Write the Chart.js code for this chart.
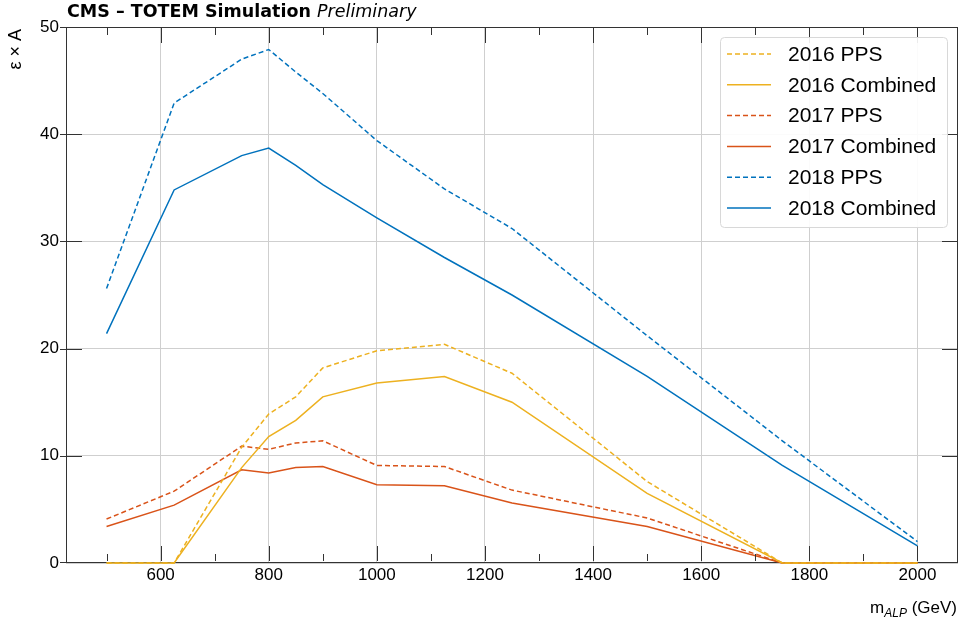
<!DOCTYPE html>
<html>
<head>
<meta charset="utf-8">
<script src="https://cdn.jsdelivr.net/npm/chart.js@4.4.0/dist/chart.umd.min.js"></script>
<style>
html, body { margin: 0; padding: 0; background: #fff; }
</style>
</head>
<body>
<canvas id="myChart" width="960" height="623"></canvas>
<script>
// ALP mass points (GeV)
var masses = [500, 625, 750, 800, 850, 900, 1000, 1125, 1250, 1500, 1750, 2000];

// efficiency x acceptance (%)
var pps2016 = [0, 0, 10.8, 13.9, 15.5, 18.2, 19.8, 20.4, 17.7, 7.6, 0, 0];
var comb2016 = [0, 0, 8.9, 11.8, 13.3, 15.5, 16.8, 17.4, 15.0, 6.5, 0, 0];
var pps2017 = [4.1, 6.7, 10.9, 10.6, 11.2, 11.4, 9.1, 9.0, 6.8, 4.2, 0, 0];
var comb2017 = [3.4, 5.4, 8.7, 8.4, 8.9, 9.0, 7.3, 7.2, 5.6, 3.4, 0, 0];
var pps2018 = [25.6, 42.9, 47.0, 47.9, 45.8, 43.8, 39.4, 34.9, 31.2, 21.2, 11.4, 2.0];
var comb2018 = [21.4, 34.8, 38.0, 38.7, 37.1, 35.3, 32.2, 28.5, 25.0, 17.4, 9.1, 1.6];

var seriesLabels = ['2016 PPS', '2016 Combined', '2017 PPS', '2017 Combined', '2018 PPS', '2018 Combined'];

var xMajor = [600, 800, 1000, 1200, 1400, 1600, 1800, 2000];
var xMinor = [500, 700, 900, 1100, 1300, 1500, 1700, 1900];
var yMajor = [0, 10, 20, 30, 40, 50];

var yellow = '#EDB120';
var orange = '#D95319';
var blue = '#0072BD';

function series(label, values, color, dashed) {
    return {
        label: label,
        data: masses.map(function (m, i) { return { x: m, y: values[i] }; }),
        borderColor: color,
        backgroundColor: color,
        borderWidth: 1.5,
        borderDash: dashed ? [5, 3] : [],
        pointRadius: 0,
        tension: 0,
        fill: false,
        clip: 3
    };
}

var frameAndTicks = {
    id: 'frameAndTicks',
    beforeDatasetsDraw: function (chart) {
        // axis frame sits under the curves so zero values stay visible
        var ctx = chart.ctx;
        var a = chart.chartArea;
        ctx.save();
        ctx.strokeStyle = '#333';
        ctx.lineWidth = 1;
        ctx.strokeRect(a.left + 0.5, a.top + 0.5, a.right - a.left - 1, a.bottom - a.top - 1);
        ctx.restore();
    },
    afterDatasetsDraw: function (chart) {
        var ctx = chart.ctx;
        var a = chart.chartArea;
        var xs = chart.scales.x, ys = chart.scales.y;
        ctx.save();
        ctx.strokeStyle = '#333';
        ctx.lineWidth = 1;

        ctx.beginPath();
        xMajor.forEach(function (v) {
            var px = Math.round(xs.getPixelForValue(v)) + 0.5;
            ctx.moveTo(px, a.bottom - 2); ctx.lineTo(px, a.bottom - 17);
            ctx.moveTo(px, a.top); ctx.lineTo(px, a.top + 16);
        });
        xMinor.forEach(function (v) {
            var px = Math.round(xs.getPixelForValue(v)) + 0.5;
            ctx.moveTo(px, a.bottom - 2); ctx.lineTo(px, a.bottom - 9);
            ctx.moveTo(px, a.top); ctx.lineTo(px, a.top + 8);
        });
        yMajor.forEach(function (v) {
            var py = Math.round(ys.getPixelForValue(v)) + 0.5;
            if (v === 0) py -= 1;
            ctx.moveTo(a.left - 6, py); ctx.lineTo(a.left + 16, py);
            ctx.moveTo(a.right, py); ctx.lineTo(a.right - 16, py);
        });
        ctx.stroke();

        // tick labels
        ctx.fillStyle = '#000';
        ctx.font = '17px "Liberation Sans", Arial, sans-serif';
        ctx.textAlign = 'center';
        ctx.textBaseline = 'top';
        xMajor.forEach(function (v) {
            ctx.fillText(String(v), xs.getPixelForValue(v), a.bottom + 4);
        });
        ctx.textAlign = 'right';
        ctx.textBaseline = 'middle';
        yMajor.forEach(function (v) {
            ctx.fillText(String(v), a.left - 7, ys.getPixelForValue(v));
        });

        // axis titles
        ctx.save();
        ctx.translate(16, a.top + 2);
        ctx.rotate(-Math.PI / 2);
        ctx.textAlign = 'right';
        ctx.textBaseline = 'middle';
        ctx.font = '18px "Liberation Sans", Arial, sans-serif';
        ctx.fillText('\u03b5 \u00d7 A', 0, 0);
        ctx.restore();

        var base = 613;
        var right = 957;
        var fMain = '17px "Liberation Sans", Arial, sans-serif';
        var fSub = 'italic 12px "Liberation Sans", Arial, sans-serif';
        ctx.textAlign = 'left';
        ctx.textBaseline = 'alphabetic';
        ctx.font = fMain;
        var wM = ctx.measureText('m').width;
        var wTail = ctx.measureText(' (GeV)').width;
        ctx.font = fSub;
        var wSub = ctx.measureText('ALP').width;
        var x0 = right - wM - wSub - wTail;
        ctx.font = fMain;
        ctx.fillText('m', x0, base);
        ctx.font = fSub;
        ctx.fillText('ALP', x0 + wM, base + 4);
        ctx.font = fMain;
        ctx.fillText(' (GeV)', x0 + wM + wSub, base);

        // header
        ctx.font = 'bold 17.5px "DejaVu Sans", sans-serif';
        var head = 'CMS \u2013 TOTEM Simulation ';
        ctx.fillText(head, a.left + 1, 17);
        var wh = ctx.measureText(head).width;
        ctx.font = 'italic 17.5px "DejaVu Sans", sans-serif';
        ctx.fillText('Preliminary', a.left + 1 + wh, 17);
        ctx.restore();
    }
};

var boxLegend = {
    id: 'boxLegend',
    afterDraw: function (chart) {
        var ctx = chart.ctx;
        var bx = 720, by = 37, bw = 227, bh = 190;
        ctx.save();
        ctx.beginPath();
        ctx.roundRect(bx + 0.5, by + 0.5, bw, bh, 4);
        ctx.fillStyle = 'rgba(255,255,255,0.9)';
        ctx.fill();
        ctx.strokeStyle = '#d8d8d8';
        ctx.lineWidth = 1;
        ctx.stroke();
        ctx.font = '21px "Liberation Sans", Arial, sans-serif';
        ctx.textAlign = 'left';
        ctx.textBaseline = 'middle';
        chart.data.datasets.forEach(function (ds, i) {
            var y = 54 + i * 30.8;
            ctx.beginPath();
            ctx.setLineDash(ds.borderDash);
            ctx.strokeStyle = ds.borderColor;
            ctx.lineWidth = 1.5;
            ctx.moveTo(727, y);
            ctx.lineTo(771, y);
            ctx.stroke();
            ctx.setLineDash([]);
            ctx.fillStyle = '#000';
            ctx.fillText(ds.label, 788, y + 1);
        });
        ctx.restore();
    }
};

var ctx = document.getElementById('myChart').getContext('2d');
var myChart = new Chart(ctx, {
    type: 'line',
    data: {
        datasets: [
            series(seriesLabels[0], pps2016, yellow, true),
            series(seriesLabels[1], comb2016, yellow, false),
            series(seriesLabels[2], pps2017, orange, true),
            series(seriesLabels[3], comb2017, orange, false),
            series(seriesLabels[4], pps2018, blue, true),
            series(seriesLabels[5], comb2018, blue, false)
        ]
    },
    options: {
        responsive: false,
        animation: false,
        devicePixelRatio: 1,
        layout: {
            padding: { left: 66, right: 2, top: 27, bottom: 60 }
        },
        scales: {
            x: {
                type: 'linear',
                min: 425,
                max: 2075,
                afterBuildTicks: function (scale) {
                    scale.ticks = xMajor.map(function (v) { return { value: v }; });
                },
                ticks: { display: false },
                border: { display: false },
                grid: { color: '#cfcfcf', lineWidth: 1, drawTicks: false }
            },
            y: {
                min: 0,
                max: 50,
                afterBuildTicks: function (scale) {
                    scale.ticks = yMajor.map(function (v) { return { value: v }; });
                },
                ticks: { display: false },
                border: { display: false },
                grid: { color: '#cfcfcf', lineWidth: 1, drawTicks: false }
            }
        },
        plugins: {
            legend: { display: false },
            tooltip: { enabled: false }
        }
    },
    plugins: [frameAndTicks, boxLegend]
});
</script>
</body>
</html>
